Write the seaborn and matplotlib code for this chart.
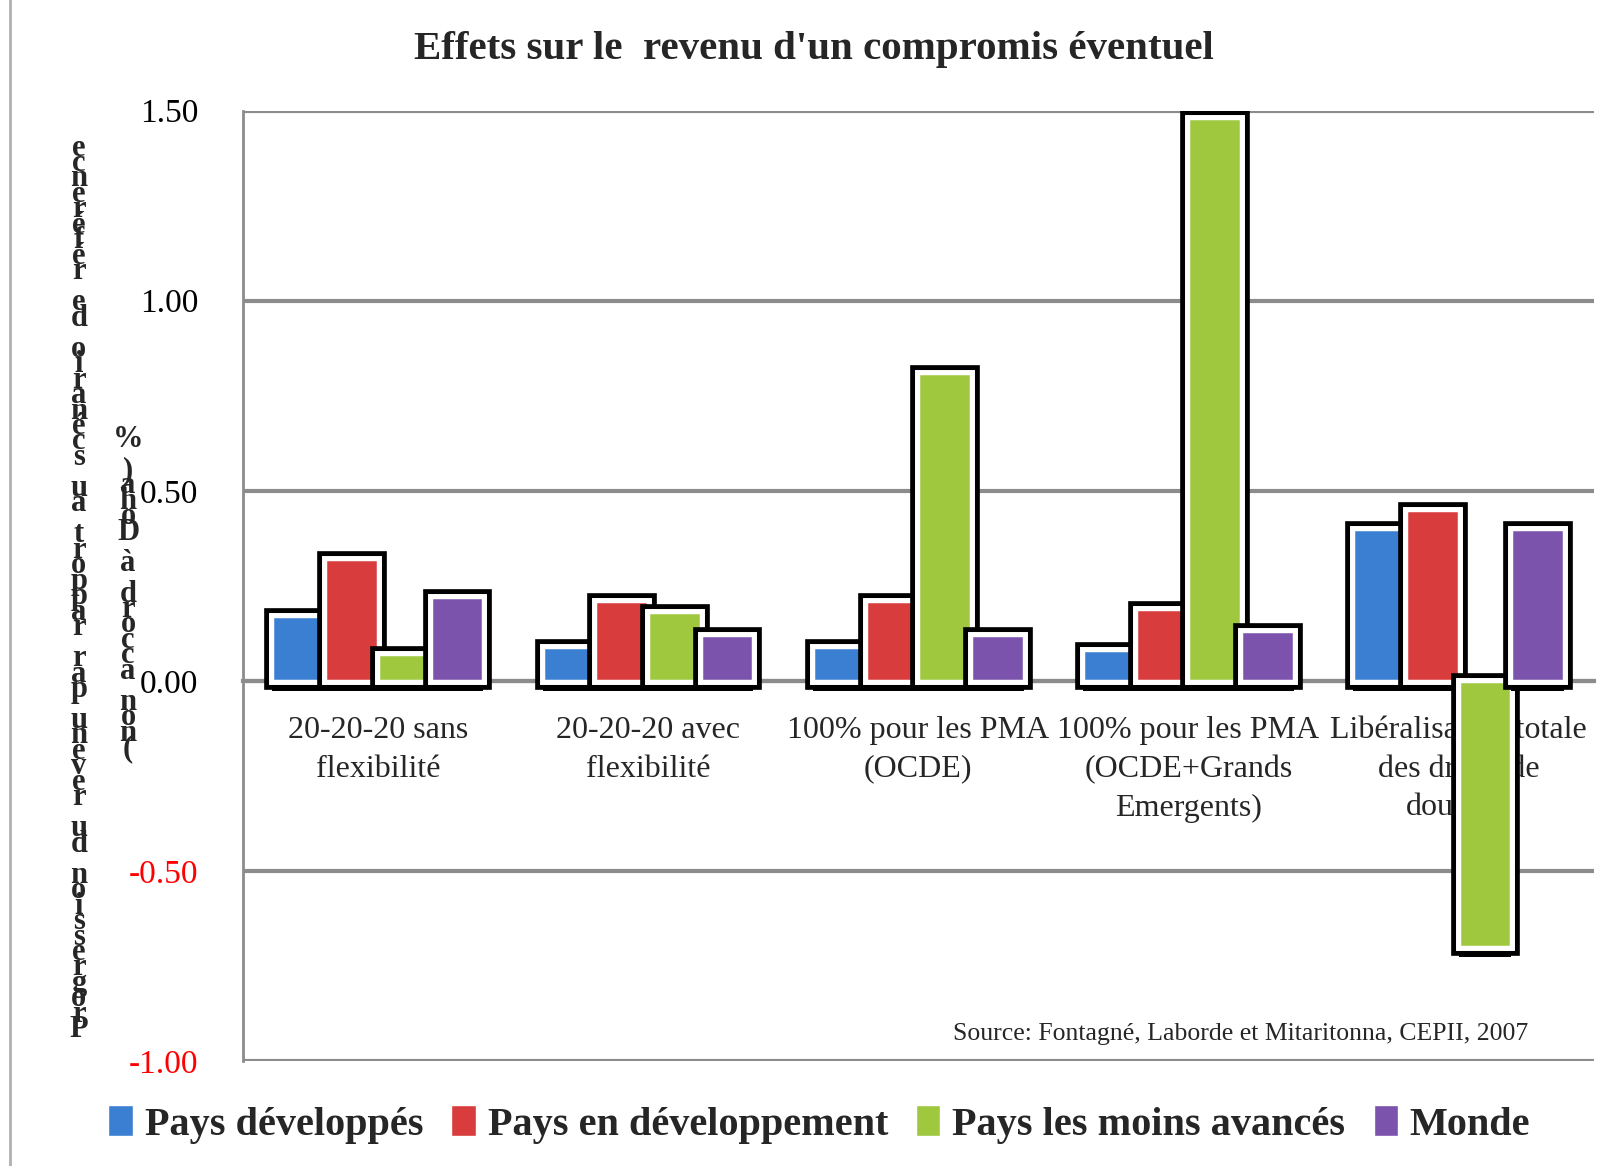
import pandas as pd
import numpy as np
import matplotlib
matplotlib.use("Agg")
import matplotlib.pyplot as plt
import matplotlib.patheffects as pe
from matplotlib.patches import Patch
from matplotlib.lines import Line2D
import seaborn as sns

# data
scenarios = ["20-20-20 sans\nflexibilité", "20-20-20 avec\nflexibilité", "100% pour les PMA\n(OCDE)",
             "100% pour les PMA\n(OCDE+Grands\nEmergents)", "Libéralisation totale\ndes droits de\ndouanes"]
groups = ["Pays développés", "Pays en développement", "Pays les moins avancés", "Monde"]
pays_dev = [0.17, 0.09, 0.09, 0.08, 0.40]
pays_en_dev = [0.32, 0.21, 0.21, 0.19, 0.45]
pma = [0.07, 0.18, 0.81, 1.48, -0.70]
monde = [0.22, 0.12, 0.12, 0.13, 0.40]
colors = ["#3b7fd2", "#d83c3c", "#9fc83e", "#7b52ac"]
yticks = [-1.0, -0.5, 0.0, 0.5, 1.0, 1.5]

df = pd.DataFrame({"Scenario": scenarios * 4,
                   "Groupe": [g for g in groups for _ in scenarios],
                   "Valeur": pays_dev + pays_en_dev + pma + monde})

serif = "Liberation Serif"
sns.set_style("white")
plt.rcParams["font.family"] = [serif, "DejaVu Serif"]

W, H = 1606, 1166
S = W / 1568  # positions measured on the shrunk view


def fx(x):
    return x * S / W


def fy(y):
    return 1 - y * S / H


fig = plt.figure(figsize=(W / 100, H / 100), dpi=100)
ax = fig.add_axes([fx(237), fy(1036), fx(1556) - fx(237), fy(108) - fy(1036)])

sns.barplot(data=df, x="Scenario", y="Valeur", hue="Groupe", palette=colors, saturation=1,
            width=0.78, edgecolor="white", linewidth=2.5, legend=False, ax=ax, zorder=3)

# black drop shadow round each bar
for p in ax.patches:
    p.set_path_effects([pe.SimplePatchShadow(offset=(0, -7), shadow_rgbFace="black", alpha=1),
                        pe.Stroke(linewidth=12, foreground="black"),
                        pe.Stroke(linewidth=5, foreground="white"),
                        pe.Normal()])

# spines first: moving the bottom spine resets the ticks
ax.spines["bottom"].set_position(("data", 0))
ax.spines["bottom"].set_color("#8c8c8c")
ax.spines["bottom"].set_linewidth(3)
ax.spines["left"].set_color("#8c8c8c")
ax.spines["left"].set_linewidth(2)
ax.spines["top"].set_visible(False)
ax.spines["right"].set_visible(False)

ax.set_ylim(-1.0, 1.5)
ax.set_xlim(-0.5, 4.5)
ax.set_yticks(yticks)
ax.set_yticklabels([f"{v:.2f}" for v in yticks])
for lab, v in zip(ax.get_yticklabels(), yticks):
    lab.set_color("red" if v < 0 else "black")
ax.yaxis.grid(True, color="#8c8c8c", linewidth=3)
ax.set_axisbelow(True)
ax.set_xticks(range(len(scenarios)))
ax.set_xticklabels(scenarios)
ax.tick_params(axis="x", length=0, pad=25, labelsize=23)
ax.tick_params(axis="y", length=0, pad=32, labelsize=24)
for t in ax.xaxis.get_major_ticks():
    t.label1.set_linespacing(1.45)
ax.set_xlabel("")
ax.set_ylabel("")

fig.text(fx(795), fy(48), "Effets sur le  revenu d'un compromis éventuel",
         ha="center", va="center", fontsize=29.5, fontweight="bold")

# stacked y label, characters read from bottom to top
ylab1 = "Progression du revenu par rapport au scénario de référence"
ylab2 = "(non accord à Doha) %"
fig.text(fx(77), fy(575), "\n".join(reversed(ylab1)), ha="center", va="center",
         fontsize=22, fontweight="bold", linespacing=0.385)
fig.text(fx(125), fy(580), "\n".join(reversed(ylab2)), ha="center", va="center",
         fontsize=22, fontweight="bold", linespacing=0.385)

fig.text(fx(1492), fy(1010), "Source: Fontagné, Laborde et Mitaritonna, CEPII, 2007",
         ha="right", va="center", fontsize=18.5)

handles = [Patch(facecolor=c, edgecolor="white") for c in colors]
fig.legend(handles, groups, loc="center", bbox_to_anchor=(fx(800), fy(1098)), ncol=4,
           frameon=False, prop={"family": serif, "weight": "bold", "size": 29},
           handlelength=0.6, handleheight=0.8, handletextpad=0.3, columnspacing=0.7)

fig.add_artist(Line2D([fx(10), fx(10)], [0, 1], transform=fig.transFigure,
                      color="#b0b0b0", linewidth=2))

fig.savefig("out.png", dpi=100)
